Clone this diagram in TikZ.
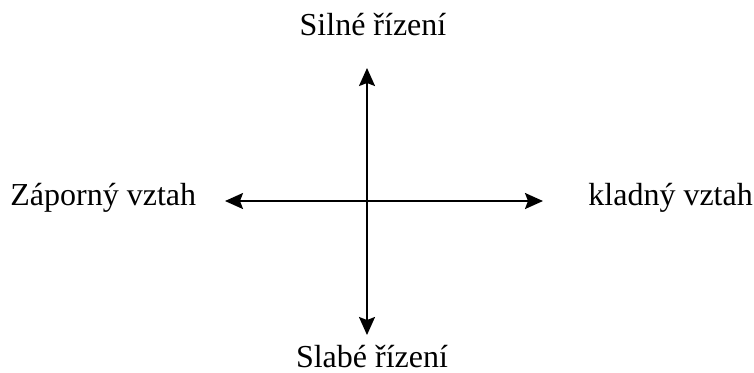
\documentclass[tikz,border=0pt]{standalone}
\usepackage{fontspec}
\setmainfont{Liberation Serif}
\usetikzlibrary{arrows.meta,positioning}

\begin{document}
\begin{tikzpicture}[x=0.5pt,y=-0.5pt,>={Stealth[length=9pt,width=8pt,inset=1.5pt]},
  lbl/.style={font=\fontsize{16}{19}\selectfont,inner sep=0pt,anchor=base}]
  \useasboundingbox (0,0) rectangle (754,372);
  \coordinate (W) at (225,201);
  \coordinate (E) at (543,201);
  \coordinate (N) at (367,68);
  \coordinate (S) at (367,335);
  \draw[line width=1pt,<->] (W)--(E);
  \draw[line width=1pt,<->] (N)--(S);
  \node[lbl] (silne) at (373,35) {Silné řízení};
  \node[lbl] (slabe) at (372,367) {Slabé řízení};
  \node[lbl,anchor=base west] (zaporny) at (10,205) {Záporný vztah};
  \node[lbl,anchor=base west] (kladny) at (588,205) {kladný vztah};
\end{tikzpicture}
\end{document}
